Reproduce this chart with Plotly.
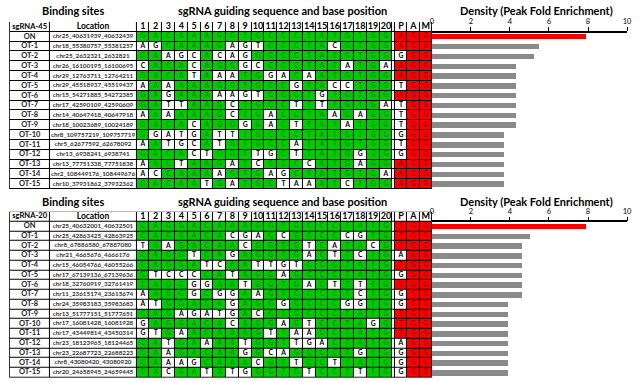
import plotly.graph_objects as go

# ---------------- data ----------------
sites = ["ON"] + [f"OT-{i}" for i in range(1, 16)]

sg45_name = "sgRNA-45"
sg45_locs = ["chr25_40631939_40632439", "chr18_55380757_55381257", "chr25_2632321_2632821",
             "chr26_16100195_16100695", "chr29_12763711_12764211", "chr29_45518937_45519437",
             "chr15_54271885_54272385", "chr17_42590109_42590609", "chr14_40647418_40647918",
             "chr18_10023689_10024189", "chr8_109757219_109757719", "chr5_62677592_62678092",
             "chr13_6938241_6938741", "chr13_77751338_77751838", "chr2_108449176_108449676",
             "chr10_37931862_37932362"]
sg45_seqs = ["GACAAAGGTGCCCTATGTGG", "AGCAAAGAGTCCCTACGTGG", "GAAGCACAGGCCCTATGTGG",
             "CACACAGGGCCCCTATATGA", "GACATAAATGGACAATGTGG", "AAAAAAGGTGCCGTACCTGG",
             "GAGAAAAAGTCCCTGTGTGG", "GATTAAGCTGCCTTTTGTGA", "AAAAAAGCTGACCTAAGAGG",
             "GACACAGGGGACTTATATGG", "GGATGATTTGCCCTATGTGG", "AATGCATGTGCCATATGTGG",
             "GACACTGGTTGCTTATGGGG", "AACTAAGATCCCCCATGAGG", "ACCAAAAGTGAGCTATGTGA",
             "GACAATGATGCTAAATCTGG"]
sg45_pams = ["AGG", "AGG", "GGG", "AGG", "AGG", "TGG", "AGG", "TGG", "TGG", "TGG", "GGG",
             "TGG", "GGG", "AGG", "AGG", "AGG"]
sg45_density = [7.9, 5.47, 5.2, 4.3, 4.3, 4.3, 4.3, 4.3, 4.3, 4.3, 3.67, 3.67, 3.67, 3.67, 3.67, 3.67]

sg20_name = "sgRNA-20"
sg20_locs = ["chr25_40632001_40632501", "chr25_42863425_42863925", "chr8_67886580_67887080",
             "chr21_4665676_4666176", "chr15_46054766_46055266", "chr17_67139136_67139636",
             "chr18_32760919_32761419", "chr11_23615174_23615674", "chr24_35983183_35983683",
             "chr13_51777151_51777651", "chr17_16081428_16081928", "chr17_43449814_43450314",
             "chr23_18123965_18124465", "chr23_22687723_22688223", "chr8_43080420_43080920",
             "chr20_24658945_24659445"]
sg20_seqs = ["CAGGACAAAGGTGCCCTATG", "CAGGACACGAGCGCCCCGTG", "TAAGACAACGGTGTCATACG",
             "CAGGTCAGAGGTGACTTCTG", "CAGGATCAATTGTCCCTATG", "CTCCCCATAGGAGCCCTATG",
             "CAGGGGAATGGTGACTTTTG", "AAGGGCGGAAGTGCCCTCTG", "ATGGACAGAGGGGCCCGGTG",
             "CAGAGATGACGTGCCCTATG", "GAGGACACAGGAGTCCTAGG", "GTGAACAAAGTTAACCTATG",
             "CATGAAAATGGTTGACTATG", "CAAGACAAGGCAGCCCTGTG", "CAAAGCAAACGTTCCTTATG",
             "CACGATATGGGTGTCCTTTG"]
sg20_pams = ["TGG", "TGG", "TGG", "AGG", "TGG", "GGG", "TGG", "GGG", "GGG", "TGG", "TGG",
             "TGG", "AGG", "GGG", "GGG", "GGG"]
sg20_density = [7.88, 5.0, 4.6, 4.6, 4.6, 4.6, 4.6, 4.6, 3.9, 3.9, 3.9, 3.9, 3.9, 3.9, 3.9, 3.9]

positions = [str(i) for i in range(1, 21)]
pam_labels = ["P", "A", "M"]
density_ticks = [0, 2, 4, 6, 8, 10]

titles = ["Binding sites", "sgRNA guiding sequence and base position", "Density (Peak Fold Enrichment)"]

# ---------------- layout constants ----------------
W, H = 640, 382
FONT = "Lato"
GREEN, RED, GRAY = "#00cc00", "#ff0000", "#8a8a8a"
GREEN_TXT, RED_TXT = "#138f13", "#a30000"

edges = [8, 48, 136]
base_w, gap_w, pam_w = 12.93, 2.5, 12.5
for i in range(20):
    edges.append(edges[-1] + base_w)
edges.append(edges[-1] + gap_w)
for i in range(3):
    edges.append(edges[-1] + pam_w)
centers = [(a + b) / 2 for a, b in zip(edges[:-1], edges[1:])]
bar_x0, bar_x1 = edges[-1], 632

blocks = [
    dict(name=sg45_name, locs=sg45_locs, seqs=sg45_seqs, pams=sg45_pams, dens=sg45_density,
         top=22, bottom=189, title_y=11, yaxis="y", xbar="x2"),
    dict(name=sg20_name, locs=sg20_locs, seqs=sg20_seqs, pams=sg20_pams, dens=sg20_density,
         top=211.7, bottom=377.5, title_y=201, yaxis="y2", xbar="x3"),
]
title_x = [72, 284, 540]

fig = go.Figure()
layout_axes = {}
shapes, annotations = [], []

for bi, b in enumerate(blocks):
    nrows = 17
    row_h = (b["bottom"] - b["top"]) / nrows
    ax_suffix = "" if bi == 0 else "2"
    layout_axes["yaxis" + ax_suffix] = dict(
        domain=[1 - b["bottom"] / H, 1 - b["top"] / H], range=[nrows - 0.5, -0.5],
        visible=False, fixedrange=True)

    on_seq, on_pam = b["seqs"][0], b["pams"][0]
    z = [[0] * 26]
    for r in range(16):
        row = [0, 0]
        row += [1 if b["seqs"][r][k] == on_seq[k] else 0 for k in range(20)]
        row += [0]
        row += [2 if b["pams"][r][k] == on_pam[k] else 0 for k in range(3)]
        z.append(row)

    shapes.append(dict(type="rect", xref="x", yref=b["yaxis"], x0=edges[0], x1=edges[-1],
                       y0=-0.5, y1=nrows - 0.5, fillcolor="black", line=dict(color="black", width=1.5),
                       layer="below"))
    fig.add_trace(go.Heatmap(z=z, x=edges, y=list(range(nrows)), xaxis="x", yaxis=b["yaxis"],
                             colorscale=[[0, "#ffffff"], [0.5, GREEN], [1, RED]], zmin=0, zmax=2,
                             xgap=1, ygap=1, showscale=False, hoverinfo="skip"))

    # header text
    hx = [centers[0], centers[1]] + centers[2:22] + centers[23:26]
    ht = [b["name"], "Location"] + positions + pam_labels
    fig.add_trace(go.Scatter(x=hx, y=[0] * len(hx), text=[f"<b>{t}</b>" for t in ht], mode="text",
                             textfont=dict(family=FONT, size=[7.6, 8.5] + [9] * 23, color="black"),
                             xaxis="x", yaxis=b["yaxis"], hoverinfo="skip", showlegend=False))
    # site labels and locations
    fig.add_trace(go.Scatter(x=[centers[0]] * 16, y=list(range(1, 17)),
                             text=[f"<b>{s}</b>" for s in sites], mode="text",
                             textfont=dict(family=FONT, size=7.5, color="#222222"),
                             xaxis="x", yaxis=b["yaxis"], hoverinfo="skip", showlegend=False))
    fig.add_trace(go.Scatter(x=[centers[1]] * 16, y=list(range(1, 17)),
                             text=[f"<b>{s}</b>" for s in b["locs"]], mode="text",
                             textfont=dict(family=FONT, size=6.3, color="#333333"),
                             xaxis="x", yaxis=b["yaxis"], hoverinfo="skip", showlegend=False))
    # letters
    lx, ly, lt, lc = [], [], [], []
    for r in range(16):
        for k in range(20):
            lx.append(centers[2 + k]); ly.append(r + 1); lt.append(f"<b>{b['seqs'][r][k]}</b>")
            lc.append(GREEN_TXT if z[r + 1][2 + k] == 1 else "black")
        for k in range(3):
            lx.append(centers[23 + k]); ly.append(r + 1); lt.append(f"<b>{b['pams'][r][k]}</b>")
            lc.append(RED_TXT if z[r + 1][23 + k] == 2 else "black")
    fig.add_trace(go.Scatter(x=lx, y=ly, text=lt, mode="text",
                             textfont=dict(family=FONT, size=6.8, color=lc),
                             xaxis="x", yaxis=b["yaxis"], hoverinfo="skip", showlegend=False))

    # bars
    bar_colors = [RED] + [GRAY] * 15
    fig.add_trace(go.Bar(x=b["dens"], y=list(range(1, 17)), orientation="h", width=0.55,
                         marker=dict(color=bar_colors, line=dict(width=0)),
                         xaxis=b["xbar"], yaxis=b["yaxis"], hoverinfo="skip", showlegend=False))
    layout_axes["xaxis" + ("2" if bi == 0 else "3")] = dict(
        domain=[bar_x0 / W, bar_x1 / W], range=[0, 10], anchor="free",
        position=1 - (b["top"] + row_h) / H, side="top", showline=True, linecolor="black",
        linewidth=1.5, ticks="outside", ticklen=4, tickwidth=1, tickcolor="black",
        tickvals=density_ticks, tickfont=dict(family=FONT, size=7.5, color="black"),
        showgrid=False, zeroline=False, fixedrange=True)

    for t, tx in zip(titles, title_x):
        annotations.append(dict(text=f"<b>{t}</b>", x=tx / W, y=1 - b["title_y"] / H, xref="paper",
                                yref="paper", showarrow=False, xanchor="center", yanchor="middle",
                                font=dict(family=FONT, size=11, color="black")))

fig.update_layout(
    width=W, height=H, margin=dict(l=0, r=0, t=0, b=0),
    paper_bgcolor="white", plot_bgcolor="white", showlegend=False, bargap=0,
    xaxis=dict(domain=[0, 1], range=[0, W], visible=False, fixedrange=True),
    shapes=shapes, annotations=annotations, **layout_axes,
)
fig.write_html("out.html")
